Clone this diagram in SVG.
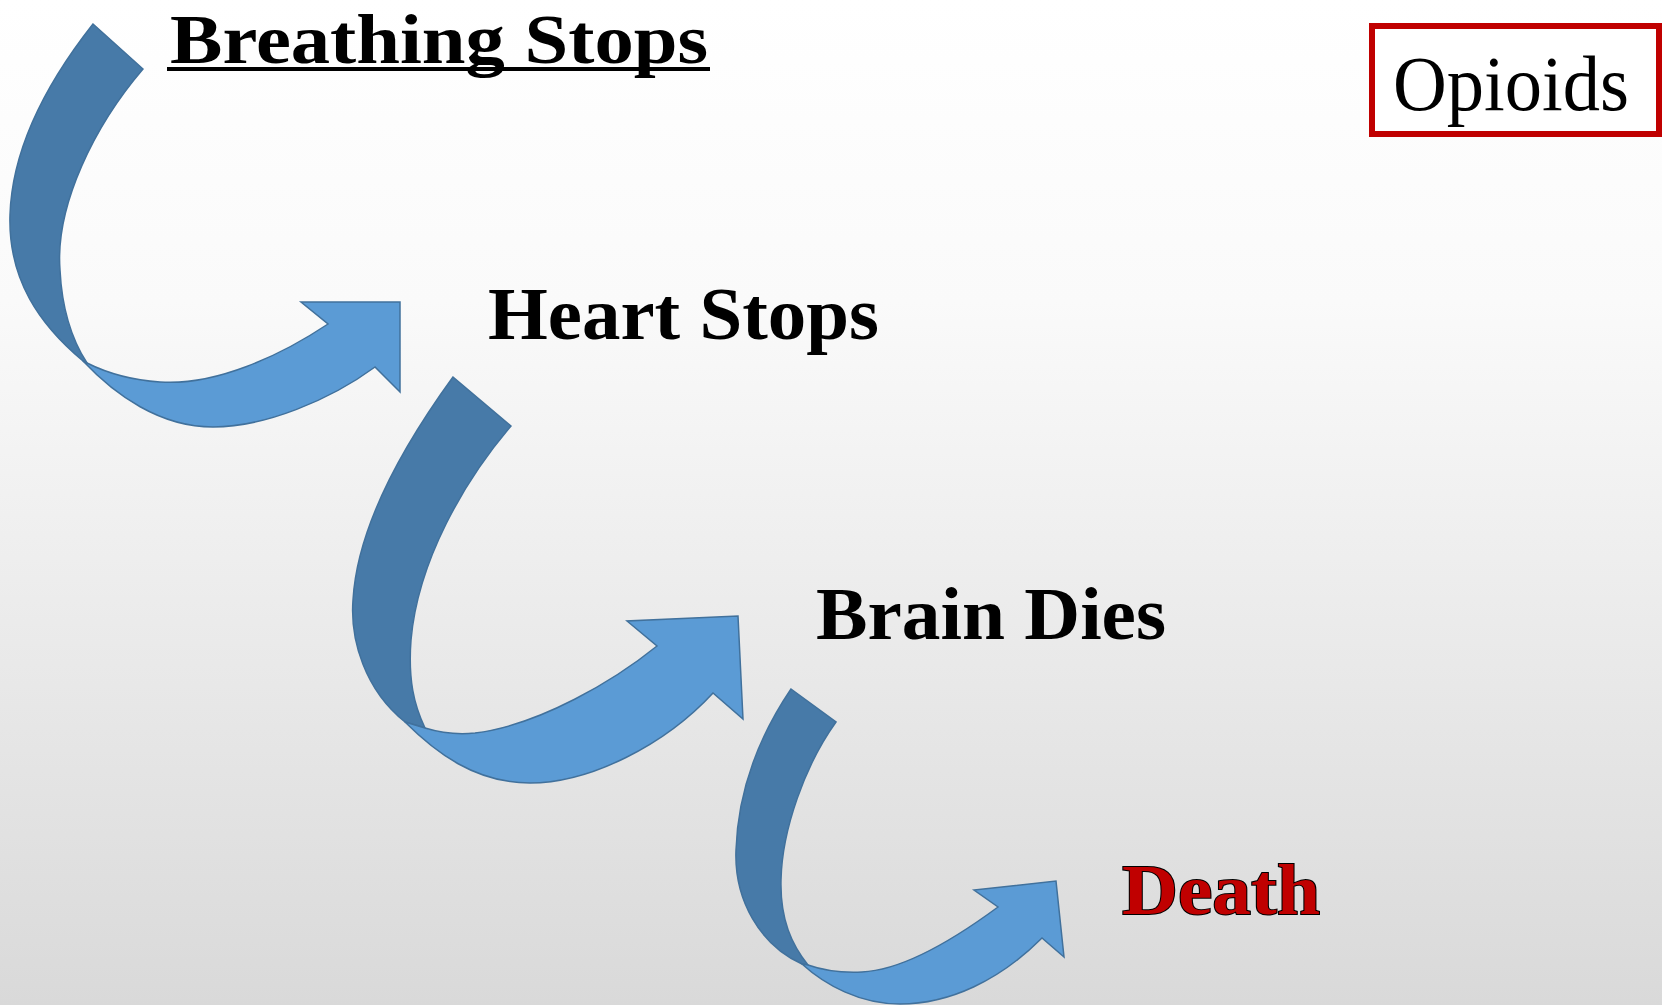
<svg xmlns="http://www.w3.org/2000/svg" width="1662" height="1005" viewBox="0 0 1662 1005">
  <defs>
    <linearGradient id="bg" x1="0" y1="0" x2="0" y2="1">
      <stop offset="0" stop-color="#ffffff"/>
      <stop offset="0.3" stop-color="#fafafa"/>
      <stop offset="1" stop-color="#d9d9d9"/>
    </linearGradient>
  </defs>
  <style>
    .back { fill: #477aa8; stroke: #41719c; stroke-width: 1.5; stroke-linejoin: miter; }
    .front { fill: #5b9bd5; stroke: #41719c; stroke-width: 1.5; stroke-linejoin: miter; }
    .lbl { font-family: "Liberation Serif", "Times New Roman", serif; font-weight: bold; fill: #000000; }
  </style>
  <rect x="0" y="0" width="1662" height="1005" fill="url(#bg)"/>

  <g id="connectors">
    <g id="arrow1">
      <path class="back" d="M93,24 L143,69 C95,125 55,205 60,270 C62,310 72,340 87,363 L83,361 C40,325 8,280 10,215 C12,150 45,85 93,24 Z"/>
      <path class="front" d="M83,361 C115,395 160,427 213,427 C265,427 330,400 375,367 L400,392 L400,302 L301,302 L328,324 C280,356 215,386 160,382 C130,380 105,372 87,363 Z"/>
    </g>
    <g id="arrow2">
      <path class="back" d="M453,377 L511,426 C465,480 418,560 411,640 C408,680 414,705 425,728 L405,722 C365,690 350,640 353,600 C357,530 400,450 453,377 Z"/>
      <path class="front" d="M405,722 C435,752 475,783 530,783 C590,783 665,745 713,693 L743,719 L738,616 L627,621 L657,646 C615,680 540,725 475,733 C455,735 438,732 425,728 Z"/>
    </g>
    <g id="arrow3">
      <path class="back" d="M791,689 L836,722 C805,765 782,830 781,880 C780,920 792,945 808,965 L802,964 C760,945 734,900 736,850 C738,790 760,735 791,689 Z"/>
      <path class="front" d="M802,964 C825,985 860,1004 900,1004 C950,1004 1000,980 1042,938 L1064,957 L1056,881 L974,890 L998,907 C960,935 905,970 862,972 C840,973 822,970 808,965 Z"/>
    </g>
  </g>

  <g id="node-breathing">
    <text class="lbl" x="170" y="63" font-size="70" textLength="538" lengthAdjust="spacingAndGlyphs">Breathing Stops</text>
    <rect x="167" y="67" width="543" height="4" fill="#000000"/>
  </g>
  <g id="node-heart">
    <text class="lbl" x="488" y="339" font-size="75" textLength="391" lengthAdjust="spacingAndGlyphs">Heart Stops</text>
  </g>
  <g id="node-brain">
    <text class="lbl" x="816" y="639" font-size="74" textLength="350" lengthAdjust="spacingAndGlyphs">Brain Dies</text>
  </g>
  <g id="node-death">
    <text class="lbl" x="1122" y="914" font-size="72" textLength="198" lengthAdjust="spacingAndGlyphs" style="fill:#c00000;stroke:#000000;stroke-width:2;paint-order:stroke;">Death</text>
  </g>
  <g id="node-opioids">
    <rect x="1372" y="26" width="287" height="108" fill="#ffffff" stroke="#c00000" stroke-width="6"/>
    <text x="1393" y="110" font-family="Liberation Serif, 'Times New Roman', serif" font-size="78" fill="#000000" textLength="236" lengthAdjust="spacingAndGlyphs">Opioids</text>
  </g>
</svg>
